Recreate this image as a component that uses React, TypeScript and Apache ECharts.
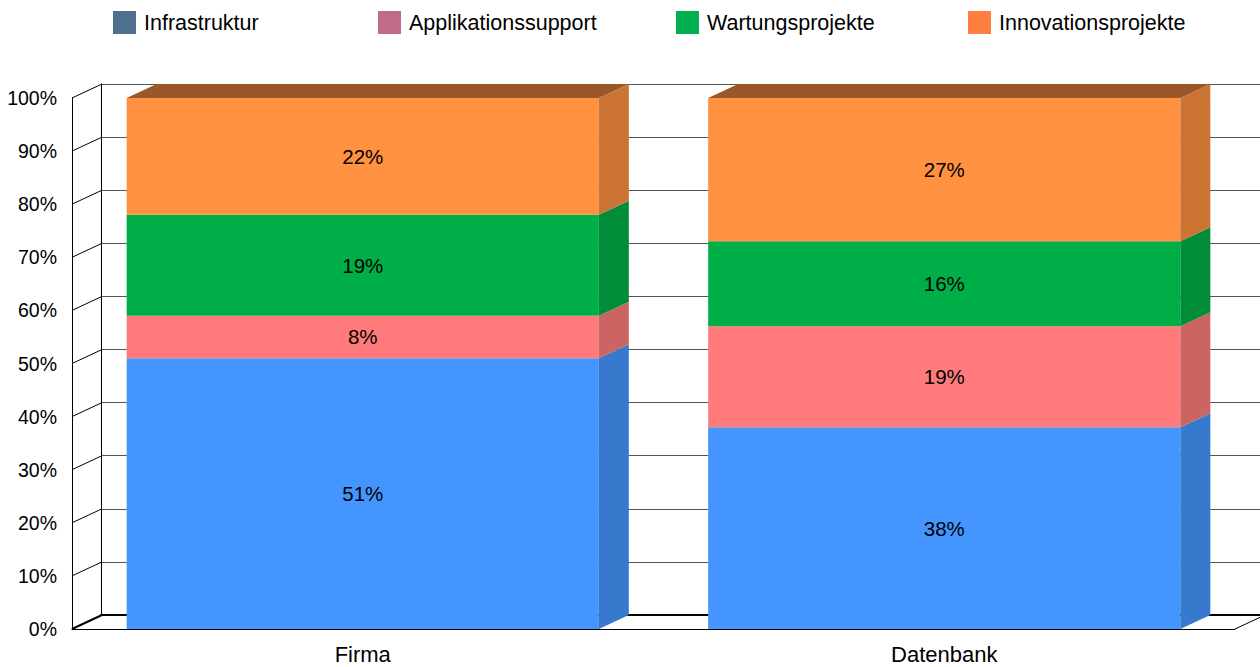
import React, { useEffect, useRef } from "react";
import * as echarts from "echarts";

const categories = ["Firma", "Datenbank"];
const seriesNames = ["Infrastruktur", "Applikationssupport", "Wartungsprojekte", "Innovationsprojekte"];
const infrastruktur = [51, 38];
const applikationssupport = [8, 19];
const wartungsprojekte = [19, 16];
const innovationsprojekte = [22, 27];
const yTicks = [0, 10, 20, 30, 40, 50, 60, 70, 80, 90, 100];

const legendColors = ["#4f6f8f", "#c16a89", "#00b050", "#ff7f40"];
const frontColors = ["#4595ff", "#ff7b7b", "#00ae47", "#ff9141"];
const sideColors = ["#3779cd", "#cc6464", "#008c39", "#cc7434"];
const topColors = ["#2f5f9f", "#994a4a", "#006b2b", "#99572a"];
const legendLeft = [113, 378, 676, 968];

const DX = 30;
const DY = -14;
const FONT = '"Liberation Sans", Arial, Helvetica, sans-serif';

export default function App() {
  const ref = useRef<HTMLDivElement>(null);
  useEffect(() => {
    if (!ref.current) return;
    const chart = echarts.init(ref.current, undefined, { renderer: "svg" });
    const all = [infrastruktur, applikationssupport, wartungsprojekte, innovationsprojekte];
    const totals = categories.map((_, j) => all.reduce((s, a) => s + a[j], 0));
    const cum = categories.map(() => 0);
    const barSeries = all.map((vals, i) => {
      const data = vals.map((v, j) => {
        const start = cum[j];
        cum[j] += v;
        return [j, start, cum[j], v];
      });
      return {
        type: "custom",
        name: seriesNames[i],
        xAxisIndex: 0,
        yAxisIndex: 0,
        itemStyle: { color: legendColors[i] },
        z: 5,
        data,
        renderItem: (params: any, api: any) => {
          const cat = api.value(0);
          const start = api.value(1);
          const end = api.value(2);
          const v = api.value(3);
          const bw = api.size([1, 0])[0] * 0.812;
          const pb = api.coord([cat, start]);
          const pt = api.coord([cat, end]);
          const cx = pb[0];
          const yb = pb[1];
          const yt = pt[1];
          const x0 = cx - bw / 2;
          const x1 = cx + bw / 2;
          const children: any[] = [
            {
              type: "rect",
              shape: { x: x0, y: yt, width: bw, height: yb - yt },
              style: { fill: frontColors[i] },
            },
            {
              type: "polygon",
              shape: {
                points: [
                  [x1, yt],
                  [x1 + DX, yt + DY],
                  [x1 + DX, yb + DY],
                  [x1, yb],
                ],
              },
              style: { fill: sideColors[i] },
            },
          ];
          if (end >= totals[cat]) {
            children.push({
              type: "polygon",
              shape: {
                points: [
                  [x0, yt],
                  [x0 + DX, yt + DY],
                  [x1 + DX, yt + DY],
                  [x1, yt],
                ],
              },
              style: { fill: topColors[i] },
            });
          }
          children.push({
            type: "text",
            style: {
              text: v + "%",
              x: cx,
              y: (yb + yt) / 2,
              align: "center",
              verticalAlign: "middle",
              fontSize: 20.5,
              fontFamily: FONT,
              fill: "#000",
            },
          });
          return { type: "group", children };
        },
      };
    });

    const wallSeries = {
      type: "custom",
      xAxisIndex: 0,
      yAxisIndex: 0,
      z: 3,
      silent: true,
      data: yTicks.map((t) => [0, t]),
      renderItem: (params: any, api: any) => {
        const t = api.value(1);
        const cs = params.coordSys;
        const y = api.coord([0, t])[1];
        const children: any[] = [
          {
            type: "line",
            shape: { x1: cs.x, y1: y, x2: cs.x + DX, y2: y + DY },
            style: { stroke: "#000", lineWidth: t === 0 ? 2 : 1 },
          },
        ];
        if (t === 0) {
          children.push({
            type: "line",
            shape: { x1: cs.x + cs.width, y1: y, x2: cs.x + cs.width + DX, y2: y + DY },
            style: { stroke: "#000", lineWidth: 1 },
          });
        }
        return { type: "group", children };
      },
    };

    chart.setOption({
      animation: false,
      backgroundColor: "#fff",
      legend: seriesNames.map((n, i) => ({
        data: [{ name: n, itemStyle: { color: legendColors[i] } }],
        left: legendLeft[i],
        top: 11,
        padding: 0,
        itemWidth: 23,
        itemHeight: 23,
        icon: "rect",
        selectedMode: false,
        textStyle: { fontSize: 21.5, fontFamily: FONT, color: "#000", padding: [0, 0, 0, 3] },
      })),
      grid: [
        { left: 72, right: 25, top: 98, bottom: 38 },
        { left: 101, right: -5, top: 84, bottom: 52 },
      ],
      xAxis: [
        {
          type: "category",
          gridIndex: 0,
          data: categories,
          axisLine: { show: true, lineStyle: { color: "#000", width: 1 } },
          axisTick: { show: false },
          axisLabel: { fontSize: 22, fontFamily: FONT, color: "#000", margin: 14 },
          z: 4,
        },
        {
          type: "category",
          gridIndex: 1,
          data: categories,
          axisLine: { show: true, lineStyle: { color: "#000", width: 2 } },
          axisTick: { show: false },
          axisLabel: { show: false },
          z: 1,
        },
      ],
      yAxis: [
        {
          type: "value",
          gridIndex: 0,
          min: 0,
          max: 100,
          interval: 10,
          axisLine: { show: true, lineStyle: { color: "#000", width: 1 } },
          axisTick: { show: false },
          splitLine: { show: false },
          axisLabel: { formatter: "{value}%", fontSize: 19.5, fontFamily: FONT, color: "#000", margin: 15 },
          z: 4,
        },
        {
          type: "value",
          gridIndex: 1,
          min: 0,
          max: 100,
          interval: 10,
          axisLine: { show: true, lineStyle: { color: "#000", width: 1 } },
          axisTick: { show: false },
          axisLabel: { show: false },
          splitLine: { show: true, lineStyle: { color: "#555", width: 1 } },
          z: 1,
        },
      ],
      series: [wallSeries, ...barSeries],
    } as any);
    return () => chart.dispose();
  }, []);
  return (
    <div
      ref={ref}
      style={{ position: "fixed", left: 0, top: 0, width: 1260, height: 667 }}
    />
  );
}
